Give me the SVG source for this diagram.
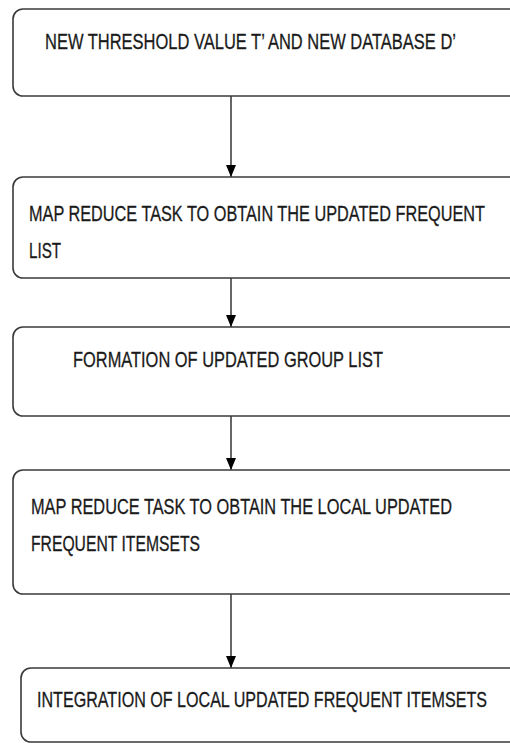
<svg xmlns="http://www.w3.org/2000/svg" width="510" height="743" viewBox="0 0 510 743">
<defs>
<style>
.box{fill:#fff;stroke:#3a3a3a;stroke-width:1.6}
.t{font-family:"Liberation Sans",Arial,sans-serif;font-size:22px;fill:#1a1a1a;stroke:#1a1a1a;stroke-width:0.3}
.c{stroke:#000;stroke-width:1.2;fill:none}
</style>
<marker id="ah" viewBox="0 0 12 10" refX="12" refY="5" markerWidth="12" markerHeight="10" markerUnits="userSpaceOnUse" orient="auto">
<path d="M0,0 L12,5 L0,10 Z" fill="#000"/>
</marker>
</defs>
<rect width="510" height="743" fill="#fff"/>
<g id="connectors">
<line class="c" x1="231" y1="96" x2="231" y2="177" marker-end="url(#ah)"/>
<line class="c" x1="231" y1="278" x2="231" y2="327" marker-end="url(#ah)"/>
<line class="c" x1="231" y1="416" x2="231" y2="470" marker-end="url(#ah)"/>
<line class="c" x1="231" y1="594" x2="231" y2="668" marker-end="url(#ah)"/>
</g>
<g id="n1">
<rect class="box" x="13" y="9" width="530" height="87" rx="10"/>
<text class="t" transform="translate(45,49) scale(0.75,1)" textLength="548" lengthAdjust="spacingAndGlyphs">NEW THRESHOLD VALUE T’ AND NEW DATABASE D’</text>
</g>
<g id="n2">
<rect class="box" x="13" y="177" width="530" height="101" rx="10"/>
<text class="t" transform="translate(29,221) scale(0.75,1)" textLength="608" lengthAdjust="spacingAndGlyphs">MAP REDUCE TASK TO OBTAIN THE  UPDATED FREQUENT</text>
<text class="t" transform="translate(29,258) scale(0.75,1)" textLength="42.7" lengthAdjust="spacingAndGlyphs">LIST</text>
</g>
<g id="n3">
<rect class="box" x="13" y="327" width="530" height="89" rx="10"/>
<text class="t" transform="translate(73,367) scale(0.75,1)" textLength="413.3" lengthAdjust="spacingAndGlyphs">FORMATION OF UPDATED GROUP LIST</text>
</g>
<g id="n4">
<rect class="box" x="13" y="470" width="530" height="124" rx="10"/>
<text class="t" transform="translate(31,514) scale(0.75,1)" textLength="561.3" lengthAdjust="spacingAndGlyphs">MAP REDUCE TASK TO OBTAIN THE  LOCAL UPDATED</text>
<text class="t" transform="translate(31,551) scale(0.75,1)" textLength="225.3" lengthAdjust="spacingAndGlyphs">FREQUENT ITEMSETS</text>
</g>
<g id="n5">
<rect class="box" x="21" y="668" width="530" height="74" rx="10"/>
<text class="t" transform="translate(37,707) scale(0.75,1)" textLength="600" lengthAdjust="spacingAndGlyphs">INTEGRATION OF LOCAL UPDATED FREQUENT ITEMSETS</text>
</g>
</svg>
